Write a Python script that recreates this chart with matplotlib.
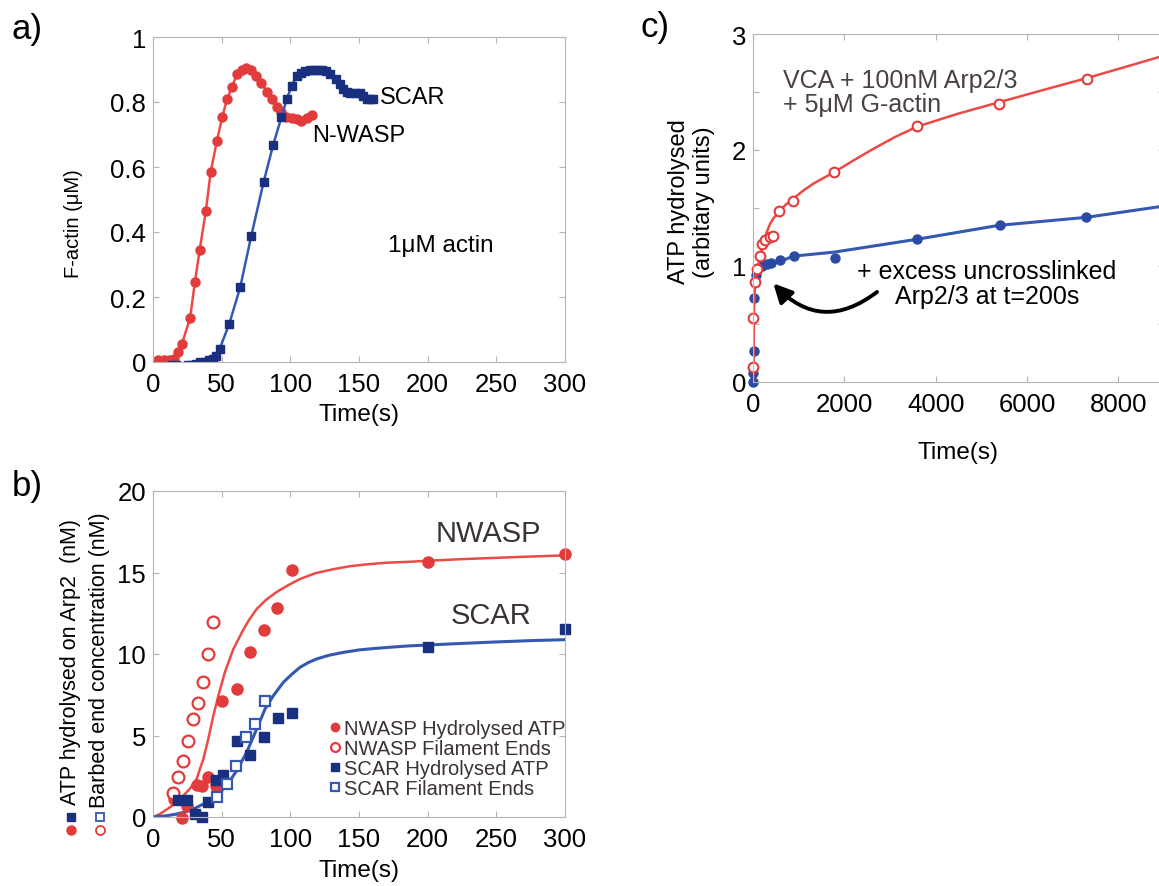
import matplotlib
matplotlib.use("Agg")
import matplotlib.pyplot as plt
from matplotlib.lines import Line2D

plt.rcParams['font.family'] = ['Liberation Sans', 'DejaVu Sans']

# ---- a) F-actin polymerisation, 1uM actin
nwasp_t = [4, 8, 11.5, 15, 18.5, 21, 27, 30.5, 34, 38.5, 42, 46.5, 50.5, 54, 57.5, 61, 64.5,
           68, 71.5, 75, 79, 83, 86.5, 90, 93.5, 97, 101, 104.5, 108, 112, 115.5]
nwasp_f = [0.005, 0.005, 0.005, 0.01, 0.03, 0.055, 0.135, 0.245, 0.345, 0.465, 0.585, 0.68,
           0.755, 0.81, 0.845, 0.885, 0.90, 0.905, 0.90, 0.88, 0.86, 0.83, 0.81, 0.785,
           0.77, 0.755, 0.75, 0.748, 0.742, 0.75, 0.76]
scar_t = [13.5, 16.5, 19.5, 22.5, 25.5, 28.5, 31.5, 34.5, 37.5, 40.5, 43.5, 46, 48.5, 55.5,
          63.5, 71.5, 80.5, 87.5, 93.5, 97.5, 101, 104.5, 108, 111, 114, 117, 120, 123, 126,
          129, 133.5, 136, 138.5, 141, 143.5, 147, 150.5, 153, 155.5, 158, 160.5]
scar_f = [-0.01, -0.01, -0.015, -0.015, -0.01, -0.01, -0.005, 0.0, 0.0, 0.005, 0.01, 0.02,
          0.04, 0.117, 0.23, 0.387, 0.553, 0.668, 0.753, 0.81, 0.85, 0.88, 0.89, 0.895, 0.9,
          0.9, 0.9, 0.9, 0.895, 0.885, 0.87, 0.855, 0.84, 0.83, 0.828, 0.828, 0.828, 0.82,
          0.81, 0.81, 0.81]

# ---- b) ATP hydrolysis on Arp2 vs barbed ends
nw_atp_t = [15, 21, 24.5, 32, 35.5, 40, 46, 50.5, 61, 70.5, 81, 90.5, 101, 200, 300]
nw_atp_y = [1.1, -0.08, 0.7, 1.95, 1.92, 2.43, 1.92, 7.14, 7.85, 10.1, 11.5, 12.8, 15.17, 15.66, 16.13]
nw_end_t = [14.8, 18.4, 22.1, 25.7, 28.9, 32.5, 36.2, 39.8, 43.5]
nw_end_y = [1.47, 2.43, 3.46, 4.64, 6.0, 6.97, 8.26, 10.0, 11.98]
sc_atp_t = [18.4, 24.5, 30.6, 35.4, 40.3, 45.9, 50.7, 60.9, 70.6, 80.9, 90.8, 101, 200, 300]
sc_atp_y = [1.06, 1.06, 0.18, 0.0, 0.9, 2.29, 2.6, 4.64, 3.8, 4.93, 6.05, 6.38, 10.45, 11.53]
sc_end_t = [46.4, 53.6, 60.4, 67.7, 74.3, 81.6]
sc_end_y = [1.2, 2.02, 3.15, 4.93, 5.7, 7.14]
nw_fit_t = [0, 5, 12.4, 17, 22.1, 27, 31.8, 34, 36.7, 40.3, 43.9, 47.6, 52.4, 58.5, 65.8,
            70, 75.5, 82, 90, 98, 107, 118, 131, 143, 155.6, 170, 187, 200, 225, 250, 275, 300]
nw_fit_y = [0, 0.18, 0.6, 0.9, 1.3, 1.75, 2.33, 2.9, 3.56, 4.8, 6.2, 7.44, 8.9, 10.3, 11.5,
            12.1, 12.76, 13.3, 13.8, 14.2, 14.6, 14.95, 15.2, 15.38, 15.5, 15.6, 15.66, 15.72,
            15.82, 15.9, 15.98, 16.05]
sc_fit_t = [0, 10, 17.2, 23, 29.4, 34, 39.1, 46.4, 53.6, 60.9, 68.2, 75.5, 81.6, 87.6, 94.9,
            101, 107, 113, 119.2, 128, 138.6, 150, 162.9, 175, 187, 200, 225, 250, 275, 300]
sc_fit_y = [0, 0.08, 0.18, 0.3, 0.49, 0.68, 0.9, 1.31, 1.92, 2.84, 3.97, 5.4, 6.63, 7.44,
            8.26, 8.75, 9.18, 9.47, 9.7, 9.92, 10.1, 10.25, 10.35, 10.43, 10.5, 10.55, 10.65,
            10.74, 10.82, 10.88]

# ---- c) long time course
vca_t = [0, 10, 40, 90, 150, 190, 260, 370, 440, 580, 880, 1780, 3590, 5380, 7310]
vca_y = [0.13, 0.55, 0.86, 0.97, 1.09, 1.19, 1.22, 1.25, 1.26, 1.47, 1.56, 1.81, 2.21, 2.40, 2.61]
vca_fit_t = [0, 7, 22, 45, 80, 153, 220, 299, 370, 445, 577, 720, 883, 1100, 1321, 1550,
             1782, 2200, 2636, 3100, 3585, 4463, 5375, 6287, 7310, 8100, 8879, 9100]
vca_fit_y = [0.0, 0.08, 0.63, 0.85, 0.95, 1.07, 1.19, 1.29, 1.36, 1.41, 1.47, 1.53, 1.58,
             1.65, 1.71, 1.76, 1.81, 1.91, 2.01, 2.11, 2.20, 2.31, 2.41, 2.51, 2.62, 2.71,
             2.80, 2.82]
exc_t = [0, 5, 15, 30, 60, 120, 200, 300, 400, 600, 900, 1800, 3600, 5400, 7300]
exc_y = [0.0, 0.08, 0.27, 0.72, 0.92, 0.98, 1.0, 1.02, 1.03, 1.05, 1.09, 1.07, 1.23, 1.35, 1.42]
exc_fit_t = [0, 7, 40, 150, 600, 883, 1782, 3585, 5375, 7310, 8879, 9100]
exc_fit_y = [0.0, 0.74, 0.97, 1.0, 1.04, 1.085, 1.12, 1.23, 1.35, 1.42, 1.51, 1.52]

RED = '#e23b3b'
RED_LINE = '#ee4a45'
BLUE = '#18307f'
BLUE_LINE = '#3559b0'
SPINE = '#b8b4ae'
TXT = '#3a3238'

W, H = 1159, 887
fig = plt.figure(figsize=(W / 100, H / 100), dpi=100)


def px_axes(left, top, right, bottom):
    return fig.add_axes([left / W, 1 - bottom / H, (right - left) / W, (bottom - top) / H])


def style(ax):
    for s in ax.spines.values():
        s.set_color(SPINE)
        s.set_linewidth(0.8)
    ax.tick_params(direction='in', top=True, right=True, length=4, width=0.8,
                   color=SPINE, labelsize=18.5, labelcolor='black')
    ax.tick_params(axis='x', pad=7)
    ax.tick_params(axis='y', pad=5)


# a)
ax_a = px_axes(153, 38, 565, 363)
ax_a.plot(nwasp_t, nwasp_f, '-o', color=RED_LINE, mfc=RED, mec=RED, ms=6.5, lw=1.8)
ax_a.plot(scar_t, scar_f, '-s', color=BLUE_LINE, mfc=BLUE, mec=BLUE, ms=6, lw=1.8)
ax_a.set_xlim(0, 300)
ax_a.set_ylim(0, 1)
ax_a.set_xticks([0, 50, 100, 150, 200, 250, 300])
ax_a.set_yticks([0, 0.2, 0.4, 0.6, 0.8, 1])
ax_a.set_yticklabels(['0', '0.2', '0.4', '0.6', '0.8', '1'])
style(ax_a)
ax_a.set_xlabel('Time(s)', fontsize=17.5, labelpad=5)
ax_a.set_ylabel('F-actin (μM)', fontsize=14.5)
ax_a.yaxis.set_label_coords(-0.17, 0.43)
ax_a.text(165, 0.815, 'SCAR', fontsize=17, va='center', ha='left')
ax_a.text(116, 0.70, 'N-WASP', fontsize=17, va='center', ha='left')
ax_a.text(171, 0.36, '1μM actin', fontsize=17.5, va='center', ha='left')
fig.text(12 / W, 1 - 30 / H, 'a)', fontsize=25, va='center', ha='left')

# b)
ax_b = px_axes(153, 492, 565, 818)
ax_b.plot(nw_fit_t, nw_fit_y, '-', color=RED_LINE, lw=1.8)
ax_b.plot(sc_fit_t, sc_fit_y, '-', color=BLUE_LINE, lw=2.2)
h1, = ax_b.plot(nw_atp_t, nw_atp_y, 'o', color=RED, ms=8, ls='none', clip_on=False)
h2, = ax_b.plot(nw_end_t, nw_end_y, 'o', mfc='white', mec=RED, mew=1.6, ms=8.5, ls='none')
h3, = ax_b.plot(sc_atp_t, sc_atp_y, 's', color=BLUE, ms=7.5, ls='none', clip_on=False)
h4, = ax_b.plot(sc_end_t, sc_end_y, 's', mfc='white', mec=BLUE_LINE, mew=1.6, ms=7.5, ls='none')
ax_b.set_xlim(0, 300)
ax_b.set_ylim(0, 20)
ax_b.set_xticks([0, 50, 100, 150, 200, 250, 300])
ax_b.set_yticks([0, 5, 10, 15, 20])
style(ax_b)
ax_b.set_xlabel('Time(s)', fontsize=17.5, labelpad=6)
ax_b.text(244, 17.4, 'NWASP', fontsize=21, color=TXT, ha='center', va='center')
ax_b.text(246, 12.4, 'SCAR', fontsize=21, color=TXT, ha='center', va='center')
leg = ax_b.legend([h1, h2, h3, h4],
                  ['NWASP Hydrolysed ATP', 'NWASP Filament Ends',
                   'SCAR Hydrolysed ATP', 'SCAR Filament Ends'],
                  loc='upper left', bbox_to_anchor=(0.41, 0.325), frameon=False,
                  fontsize=14.5, handlelength=0.5, handletextpad=0.2,
                  labelspacing=0.05, borderaxespad=0, markerscale=0.75)
for t in leg.get_texts():
    t.set_color(TXT)
fig.text(12 / W, 1 - 487 / H, 'b)', fontsize=25, va='center', ha='left')

# rotated two-line y label of b) with its symbol keys
fig.text(71 / W, 1 - 805 / H, 'ATP hydrolysed on Arp2  (nM)', rotation=90,
         fontsize=15.5, ha='center', va='bottom')
fig.text(100 / W, 1 - 808 / H, 'Barbed end concentration (nM)', rotation=90,
         fontsize=15.5, ha='center', va='bottom')
fig.add_artist(Line2D([71 / W], [1 - 818 / H], marker='s', color=BLUE, ms=6,
                      transform=fig.transFigure))
fig.add_artist(Line2D([71 / W], [1 - 831 / H], marker='o', color=RED, ms=6.5,
                      transform=fig.transFigure))
fig.add_artist(Line2D([100 / W], [1 - 818 / H], marker='s', mfc='white', mec=BLUE_LINE,
                      mew=1.3, ms=6, transform=fig.transFigure))
fig.add_artist(Line2D([100 / W], [1 - 831 / H], marker='o', mfc='white', mec=RED,
                      mew=1.3, ms=6.5, transform=fig.transFigure))

# c)
ax_c = px_axes(753, 35, 1164, 383)
ax_c.plot(exc_fit_t, exc_fit_y, '-', color=BLUE_LINE, lw=2.2)
ax_c.plot(exc_t, exc_y, 'o', color='#2b4aa3', ms=6.5, ls='none', clip_on=False)
ax_c.plot(vca_fit_t, vca_fit_y, '-', color=RED_LINE, lw=1.8)
ax_c.plot(vca_t, vca_y, 'o', mfc='white', mec=RED, mew=1.5, ms=7, ls='none', clip_on=False)
ax_c.set_xlim(0, 9000)
ax_c.set_ylim(0, 3)
ax_c.set_xticks([0, 2000, 4000, 6000, 8000])
ax_c.set_yticks([0, 0.5, 1, 1.5, 2, 2.5, 3])
ax_c.set_yticklabels(['0', '', '1', '', '2', '', '3'])
style(ax_c)
ax_c.set_xlabel('Time(s)', fontsize=17.5, labelpad=18)
ax_c.set_ylabel('ATP hydrolysed\n(arbitary units)', fontsize=17, linespacing=1.15)
ax_c.yaxis.set_label_coords(-0.093, 0.52)
ax_c.text(657, 2.50, 'VCA + 100nM Arp2/3\n+ 5μM G-actin', fontsize=18, color='#4a4048',
          ha='left', va='center', linespacing=1.05)
ax_c.text(5126, 0.853, '+ excess uncrosslinked\nArp2/3 at t=200s', fontsize=18,
          ha='center', va='center', linespacing=1.05)
ax_c.annotate('', xy=(445, 0.85), xytext=(2716, 0.776),
              arrowprops=dict(arrowstyle='-|>', color='black', lw=2.8,
                              mutation_scale=28, shrinkA=0, shrinkB=0,
                              connectionstyle='arc3,rad=-0.45'))
fig.text(640 / W, 1 - 28 / H, 'c)', fontsize=25, va='center', ha='left')

fig.savefig('out.png', dpi=100)
